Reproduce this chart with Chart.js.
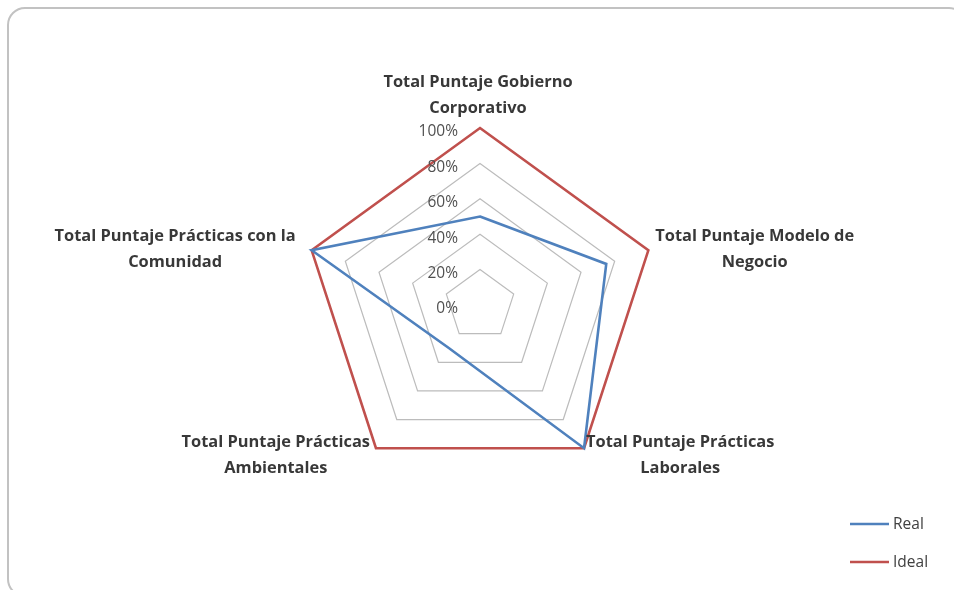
<!DOCTYPE html>
<html>
<head>
<meta charset="utf-8">
<script src="https://cdn.jsdelivr.net/npm/chart.js@4/dist/chart.umd.min.js"></script>
<style>
    html, body { margin: 0; padding: 0; background: #fff; overflow: hidden; }
    #wrap { position: relative; width: 954px; height: 590px; overflow: hidden; }
    #frame {
        position: absolute; left: 7px; top: 7px; width: 960px; height: 590px;
        border: 2px solid #c2c2c2; border-radius: 18px; box-sizing: border-box;
    }
    #radar { position: absolute; left: 0; top: 0; }
</style>
</head>
<body>
<div id="wrap">
    <div id="frame"></div>
    <canvas id="radar" width="954" height="590"></canvas>
</div>
<script>
// Radar data
const categories = [
    ['Total Puntaje Gobierno', 'Corporativo'],
    ['Total Puntaje Modelo de', 'Negocio'],
    ['Total Puntaje Prácticas', 'Laborales'],
    ['Total Puntaje Prácticas', 'Ambientales'],
    ['Total Puntaje Prácticas con la', 'Comunidad']
];
const realValues = [0.50, 0.75, 1.00, 0.30, 1.00];
const idealValues = [1.00, 1.00, 1.00, 1.00, 1.00];
const tickValues = [0, 0.2, 0.4, 0.6, 0.8, 1.0];
const tickLabels = ['0%', '20%', '40%', '60%', '80%', '100%'];

const BLUE = '#4f81bd';
const RED = '#c0504d';
const LABEL_FONT = 'bold 16.4px "Open Sans"';
const TICK_FONT = '15.5px "Open Sans"';

// where each category label sits relative to its vertex
// [anchor, dx, dy]  anchor: c = centered, l = block starts right of point, r = block ends left of point
const labelPlacement = [
    ['c', -2, -46],
    ['l', 7, -14],
    ['l', 2, -6],
    ['r', -6, -6],
    ['r', -16, -14]
];

const overlayPlugin = {
    id: 'overlay',
    afterDraw(chart) {
        const ctx = chart.ctx;
        const scale = chart.scales.r;
        ctx.save();

        // tick labels, left of the vertical axis
        ctx.font = TICK_FONT;
        ctx.fillStyle = '#505050';
        ctx.textAlign = 'right';
        ctx.textBaseline = 'middle';
        tickValues.forEach((v, i) => {
            const d = scale.getDistanceFromCenterForValue(v);
            ctx.fillText(tickLabels[i], scale.xCenter - 22, scale.yCenter - d + 4);
        });

        // category labels
        ctx.font = LABEL_FONT;
        ctx.fillStyle = '#383838';
        ctx.textAlign = 'center';
        const lineH = 26;
        categories.forEach((lines, i) => {
            const p = scale.getPointPosition(i, scale.drawingArea);
            const [anchor, dx, dy] = labelPlacement[i];
            const w = Math.max(...lines.map(t => ctx.measureText(t).width));
            let cx = p.x + dx;
            if (anchor === 'l') cx = p.x + dx + w / 2;
            if (anchor === 'r') cx = p.x + dx - w / 2;
            lines.forEach((t, j) => {
                ctx.fillText(t, cx, p.y + dy + j * lineH);
            });
        });

        // legend
        ctx.font = TICK_FONT;
        ctx.textAlign = 'left';
        ctx.fillStyle = '#404040';
        chart.data.datasets.forEach((ds, i) => {
            const y = 524 + i * 38;
            ctx.strokeStyle = ds.borderColor;
            ctx.lineWidth = 2.5;
            ctx.beginPath();
            ctx.moveTo(850, y);
            ctx.lineTo(889, y);
            ctx.stroke();
            ctx.fillText(ds.label, 893, y + 1);
        });
        ctx.restore();
    }
};

new Chart(document.getElementById('radar'), {
    type: 'radar',
    data: {
        labels: categories,
        datasets: [
            {
                label: 'Real',
                data: realValues,
                borderColor: BLUE,
                borderWidth: 2.6,
                fill: false,
                pointRadius: 0,
                pointHoverRadius: 0
            },
            {
                label: 'Ideal',
                data: idealValues,
                borderColor: RED,
                borderWidth: 2.6,
                fill: false,
                pointRadius: 0,
                pointHoverRadius: 0
            }
        ]
    },
    options: {
        responsive: false,
        animation: false,
        devicePixelRatio: 1,
        layout: { padding: { left: 303, right: 297, top: 128, bottom: 108 } },
        plugins: {
            legend: { display: false },
            tooltip: { enabled: false }
        },
        scales: {
            r: {
                min: 0,
                max: 1,
                ticks: { stepSize: 0.2, display: false },
                grid: { color: '#bcbcbc', lineWidth: 1.2 },
                angleLines: { display: false },
                pointLabels: { display: false }
            }
        }
    },
    plugins: [overlayPlugin]
});
</script>
</body>
</html>
